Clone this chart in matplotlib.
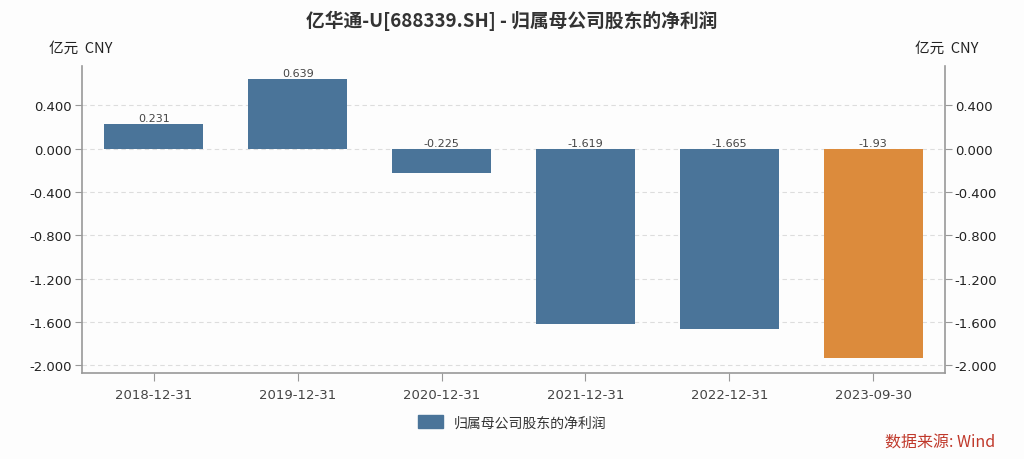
import matplotlib
matplotlib.use("Agg")
import matplotlib.pyplot as plt
from matplotlib.patches import Patch

plt.rcParams['font.family'] = ['DejaVu Sans', 'Noto Sans CJK SC']
CJK = ['Noto Sans CJK SC', 'DejaVu Sans']

categories = ["2018-12-31", "2019-12-31", "2020-12-31", "2021-12-31", "2022-12-31", "2023-09-30"]
values = [0.231, 0.639, -0.225, -1.619, -1.665, -1.93]
labels = ["0.231", "0.639", "-0.225", "-1.619", "-1.665", "-1.93"]
bar_colors = ["#4a7499", "#4a7499", "#4a7499", "#4a7499", "#4a7499", "#dc8b3c"]
yticks = [0.4, 0.0, -0.4, -0.8, -1.2, -1.6, -2.0]
ytick_labels = ["0.400", "0.000", "-0.400", "-0.800", "-1.200", "-1.600", "-2.000"]
title = "亿华通-U[688339.SH] - 归属母公司股东的净利润"
series_name = "归属母公司股东的净利润"

fig = plt.figure(figsize=(10.24, 4.6), dpi=100, facecolor="#fdfdfd")
ax = fig.add_axes([0.080, 0.188, 0.843, 0.667], facecolor="#fdfdfd")

x = list(range(len(categories)))
ax.bar(x, values, width=0.69, color=bar_colors, zorder=3)
for xi, v, lab in zip(x, values, labels):
    ax.text(xi, max(v, 0) + 0.008, lab, ha="center", va="bottom", fontsize=8, color="#444444", zorder=4)

ax.set_xlim(-0.5, len(categories) - 0.5)
ax.set_ylim(-2.065, 0.765)
ax.set_xticks(x)
ax.set_xticklabels(categories, fontsize=9.5, color="#444444")
ax.set_yticks(yticks)
ax.set_yticklabels(ytick_labels, fontsize=9.5, color="#222222")
ax.grid(axis="y", linestyle=(0, (4, 3)), color="#dddddd", linewidth=0.8, zorder=0)
ax.tick_params(axis="y", length=5, color="#999999", pad=2, right=True, labelright=True)
ax.tick_params(axis="x", length=6, color="#999999", pad=5)

for s in ["left", "right", "bottom"]:
    ax.spines[s].set_color("#999999")
    ax.spines[s].set_linewidth(1.2)
ax.spines["top"].set_visible(False)

fig.text(0.5, 0.955, title, ha="center", va="center", fontsize=13.5, fontweight="bold", color="#333333", family=CJK)
fig.text(0.110, 0.895, "亿元  CNY", ha="right", va="center", fontsize=10.5, color="#222222", family=CJK)
fig.text(0.956, 0.895, "亿元  CNY", ha="right", va="center", fontsize=10.5, color="#222222", family=CJK)

handle = Patch(facecolor="#4a7499", edgecolor="#4a7499")
fig.legend([handle], [series_name], loc="center", bbox_to_anchor=(0.5, 0.08), frameon=False,
           prop={'family': CJK, 'size': 10}, handlelength=1.8, handleheight=1.0, labelcolor="#333333")

fig.text(0.972, 0.036, "数据来源: Wind", ha="right", va="center", fontsize=11.5, color="#c0392b", family=CJK)

fig.savefig("out.png", dpi=100, facecolor=fig.get_facecolor())
